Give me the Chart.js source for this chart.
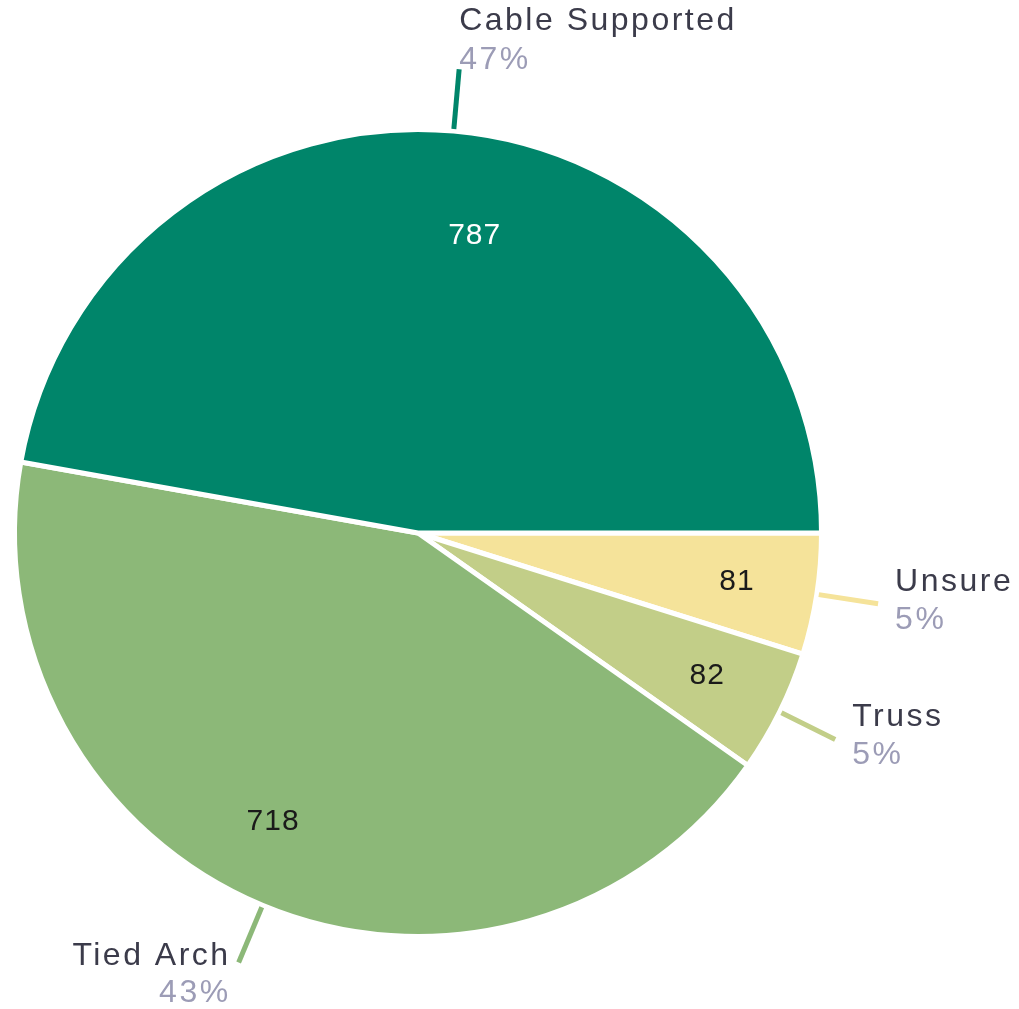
<!DOCTYPE html>
<html>
<head>
<meta charset="utf-8">
<script src="https://cdn.jsdelivr.net/npm/chart.js@4.4.1/dist/chart.umd.min.js"></script>
<style>
  html, body { margin: 0; padding: 0; background: #fff; }
  #wrap { width: 1019px; height: 1009px; }
</style>
</head>
<body>
<div id="wrap"><canvas id="bridgeChart"></canvas></div>
<script>
// drawn clockwise from 3 o'clock
const categories = ['Unsure', 'Truss', 'Tied Arch', 'Cable Supported'];
const counts     = [81, 82, 718, 787];
const percents   = ['5%', '5%', '43%', '47%'];
const colors     = ['#f5e39a', '#c2ce88', '#8cb878', '#00856a'];
const valueInk   = ['#1a1a1a', '#1a1a1a', '#1a1a1a', '#ffffff'];

// leader lines + labels outside, values inside
const pieLabels = {
  id: 'pieLabels',
  afterDatasetsDraw(chart) {
    const ctx = chart.ctx;
    const meta = chart.getDatasetMeta(0);
    ctx.save();
    meta.data.forEach((arc, i) => {
      const { x, y, startAngle, endAngle, outerRadius } = arc.getProps(['x', 'y', 'startAngle', 'endAngle', 'outerRadius'], true);
      const mid = (startAngle + endAngle) / 2;
      const cos = Math.cos(mid), sin = Math.sin(mid);

      // value inside the slice (the big ones sit a little off-centre)
      ctx.font = '30px "Liberation Sans", Arial, sans-serif';
      ctx.letterSpacing = '1px';
      ctx.fillStyle = valueInk[i];
      ctx.textAlign = 'center';
      ctx.textBaseline = 'middle';
      let vr = 0.8, va = mid;
      if (i === 3) { vr = 0.75; va = mid + 0.1; }
      if (i === 2) { va = mid + 0.07; }
      ctx.fillText(String(counts[i]), x + Math.cos(va) * outerRadius * vr, y + Math.sin(va) * outerRadius * vr);

      // leader line
      const x0 = x + cos * (outerRadius + 2), y0 = y + sin * (outerRadius + 2);
      const x1 = x + cos * (outerRadius + 62), y1 = y + sin * (outerRadius + 62);
      ctx.strokeStyle = colors[i];
      ctx.lineWidth = 5;
      ctx.beginPath();
      ctx.moveTo(x0, y0);
      ctx.lineTo(x1, y1);
      ctx.stroke();

      // category + percent
      ctx.textBaseline = 'alphabetic';
      ctx.font = '32px "Liberation Sans", Arial, sans-serif';
      ctx.letterSpacing = '2.5px';
      let tx, nameY, pctY;
      if (Math.abs(sin) > 0.9 && sin < 0) {
        ctx.textAlign = 'left';
        tx = x1;
        nameY = y1 - 39;
        pctY = y1;
      } else if (cos > 0) {
        ctx.textAlign = 'left';
        tx = x1 + 17;
        nameY = y1 - 13;
        pctY = y1 + 25;
      } else {
        ctx.textAlign = 'right';
        tx = x1 - 8;
        nameY = y1 + 2;
        pctY = y1 + 39;
      }
      ctx.fillStyle = '#3b3b4a';
      ctx.fillText(categories[i], tx, nameY);
      ctx.fillStyle = '#9c9cb6';
      ctx.fillText(percents[i], tx, pctY);
    });
    ctx.restore();
  }
};

new Chart(document.getElementById('bridgeChart'), {
  type: 'pie',
  data: {
    labels: categories,
    datasets: [{
      data: counts,
      backgroundColor: colors,
      borderColor: '#ffffff',
      borderWidth: 5
    }]
  },
  options: {
    responsive: true,
    maintainAspectRatio: false,
    animation: false,
    rotation: 90,
    layout: { padding: { left: 12, right: 195, top: 127, bottom: 70 } },
    plugins: {
      legend: { display: false },
      tooltip: { enabled: false }
    }
  },
  plugins: [pieLabels]
});
</script>
</body>
</html>
